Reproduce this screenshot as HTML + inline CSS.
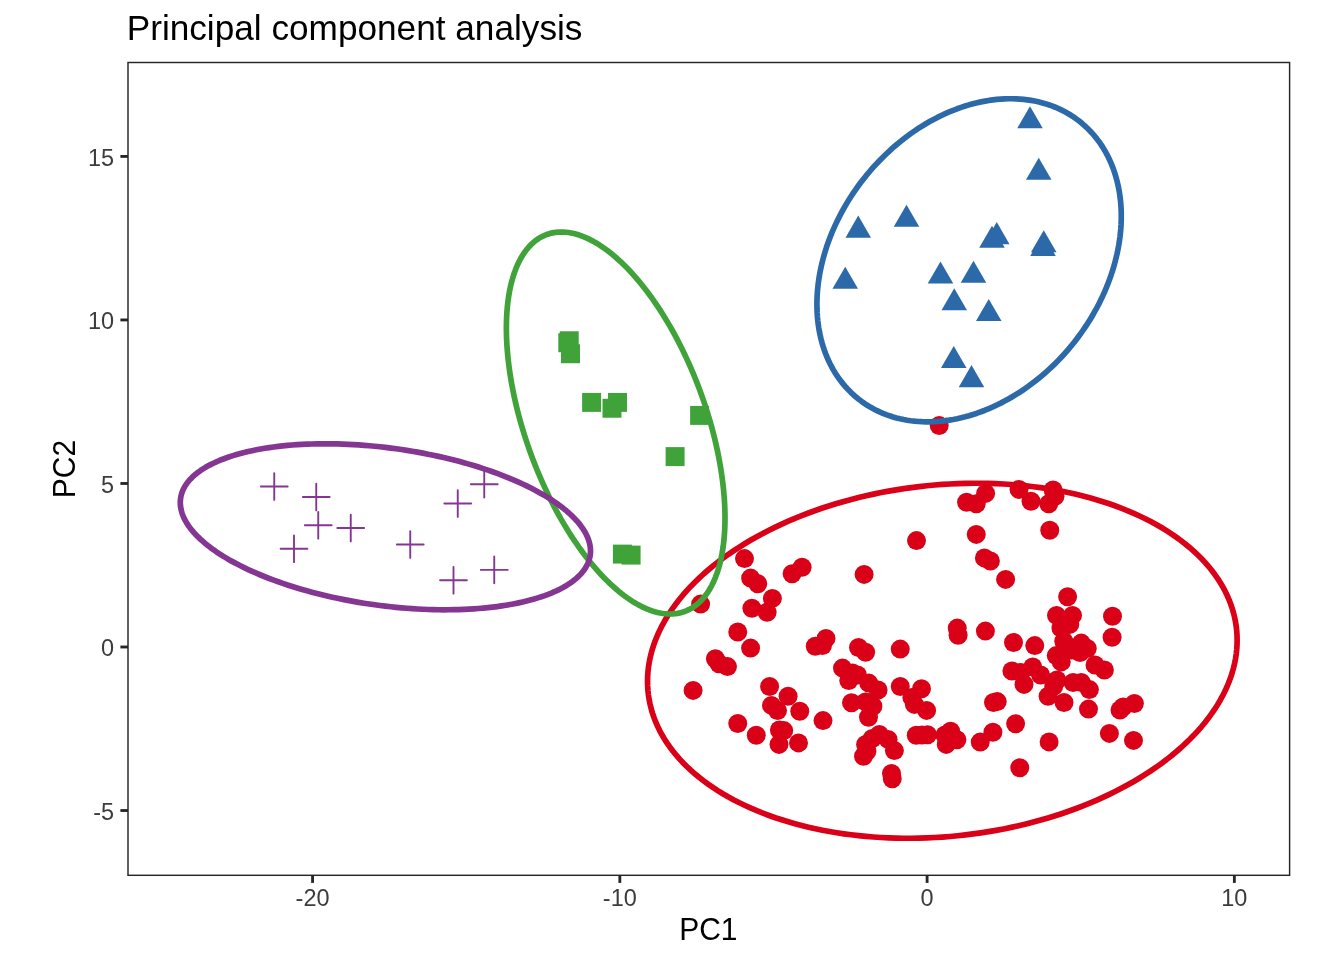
<!DOCTYPE html><html><head><meta charset="utf-8"><title>Principal component analysis</title>
<style>html,body{margin:0;padding:0;background:#fff}svg{display:block}text{font-family:"Liberation Sans",Arial,Helvetica,sans-serif}</style></head><body>
<svg width="1344" height="960" viewBox="0 0 1344 960">
<rect width="1344" height="960" fill="#fff"/>
<g fill="#DA0017">
<circle cx="744.5" cy="558.6" r="9.48"/>
<circle cx="750.6" cy="578.1" r="9.48"/>
<circle cx="757.75" cy="583.75" r="9.48"/>
<circle cx="792.1" cy="573.75" r="9.48"/>
<circle cx="802.1" cy="567.25" r="9.48"/>
<circle cx="772.4" cy="598.4" r="9.48"/>
<circle cx="700.6" cy="604.1" r="9.48"/>
<circle cx="751.9" cy="608.25" r="9.48"/>
<circle cx="767.1" cy="612.25" r="9.48"/>
<circle cx="737.75" cy="632" r="9.48"/>
<circle cx="750.6" cy="648.1" r="9.48"/>
<circle cx="715.4" cy="658.75" r="9.48"/>
<circle cx="719" cy="663.75" r="9.48"/>
<circle cx="727.5" cy="666.6" r="9.48"/>
<circle cx="826" cy="638.4" r="9.48"/>
<circle cx="815.25" cy="646.25" r="9.48"/>
<circle cx="822.5" cy="645.6" r="9.48"/>
<circle cx="693.1" cy="690.4" r="9.48"/>
<circle cx="769.6" cy="686.5" r="9.48"/>
<circle cx="788.1" cy="696.25" r="9.48"/>
<circle cx="771.5" cy="705.4" r="9.48"/>
<circle cx="777.5" cy="710.6" r="9.48"/>
<circle cx="799.75" cy="711.25" r="9.48"/>
<circle cx="823" cy="720.6" r="9.48"/>
<circle cx="737.75" cy="723.5" r="9.48"/>
<circle cx="756.25" cy="735.25" r="9.48"/>
<circle cx="779.4" cy="730" r="9.48"/>
<circle cx="783.75" cy="730.6" r="9.48"/>
<circle cx="779" cy="744.4" r="9.48"/>
<circle cx="798.5" cy="742.9" r="9.48"/>
<circle cx="864.1" cy="574.4" r="9.48"/>
<circle cx="916.5" cy="540.6" r="9.48"/>
<circle cx="976.25" cy="534.4" r="9.48"/>
<circle cx="984.4" cy="557.9" r="9.48"/>
<circle cx="990.4" cy="561" r="9.48"/>
<circle cx="1005.6" cy="579.4" r="9.48"/>
<circle cx="966.6" cy="502.25" r="9.48"/>
<circle cx="976.25" cy="503.75" r="9.48"/>
<circle cx="985.6" cy="493.4" r="9.48"/>
<circle cx="939.2" cy="425.5" r="9.48"/>
<circle cx="1019" cy="489.4" r="9.48"/>
<circle cx="1031" cy="501.25" r="9.48"/>
<circle cx="1053.1" cy="490" r="9.48"/>
<circle cx="1055" cy="496.25" r="9.48"/>
<circle cx="1048.75" cy="503.75" r="9.48"/>
<circle cx="1049.75" cy="530.25" r="9.48"/>
<circle cx="858.5" cy="647.5" r="9.48"/>
<circle cx="865.6" cy="652.25" r="9.48"/>
<circle cx="900.25" cy="649.1" r="9.48"/>
<circle cx="957.25" cy="628.1" r="9.48"/>
<circle cx="958.1" cy="635.25" r="9.48"/>
<circle cx="985.4" cy="631.1" r="9.48"/>
<circle cx="842.5" cy="668.1" r="9.48"/>
<circle cx="852.5" cy="673.1" r="9.48"/>
<circle cx="857.5" cy="675" r="9.48"/>
<circle cx="848.75" cy="680.6" r="9.48"/>
<circle cx="868.75" cy="683.1" r="9.48"/>
<circle cx="878.1" cy="690" r="9.48"/>
<circle cx="900.25" cy="686.5" r="9.48"/>
<circle cx="921.5" cy="688.75" r="9.48"/>
<circle cx="911.9" cy="697.5" r="9.48"/>
<circle cx="851.5" cy="702.75" r="9.48"/>
<circle cx="865.6" cy="701.9" r="9.48"/>
<circle cx="872.9" cy="706.25" r="9.48"/>
<circle cx="914.4" cy="704.4" r="9.48"/>
<circle cx="926.6" cy="710.4" r="9.48"/>
<circle cx="868.5" cy="717.25" r="9.48"/>
<circle cx="997.25" cy="701.6" r="9.48"/>
<circle cx="993.5" cy="702.5" r="9.48"/>
<circle cx="879.4" cy="734.4" r="9.48"/>
<circle cx="872.25" cy="738.5" r="9.48"/>
<circle cx="865.6" cy="744.4" r="9.48"/>
<circle cx="863.5" cy="756.25" r="9.48"/>
<circle cx="866.9" cy="751.25" r="9.48"/>
<circle cx="888.1" cy="739.4" r="9.48"/>
<circle cx="894.4" cy="750.6" r="9.48"/>
<circle cx="891.5" cy="773.5" r="9.48"/>
<circle cx="892.25" cy="778.75" r="9.48"/>
<circle cx="916.25" cy="735.25" r="9.48"/>
<circle cx="921.9" cy="735" r="9.48"/>
<circle cx="927.5" cy="734.75" r="9.48"/>
<circle cx="950.6" cy="731.25" r="9.48"/>
<circle cx="956.9" cy="739.75" r="9.48"/>
<circle cx="946.25" cy="744.4" r="9.48"/>
<circle cx="945" cy="735" r="9.48"/>
<circle cx="980.25" cy="742.1" r="9.48"/>
<circle cx="992.9" cy="732.25" r="9.48"/>
<circle cx="1067.6" cy="596.75" r="9.48"/>
<circle cx="1056.5" cy="615.4" r="9.48"/>
<circle cx="1072.5" cy="615.4" r="9.48"/>
<circle cx="1112.5" cy="616.25" r="9.48"/>
<circle cx="1112.1" cy="637.25" r="9.48"/>
<circle cx="1060.9" cy="628.1" r="9.48"/>
<circle cx="1069.75" cy="624.4" r="9.48"/>
<circle cx="1071.25" cy="650" r="9.48"/>
<circle cx="1013.5" cy="642.5" r="9.48"/>
<circle cx="1034.75" cy="645.6" r="9.48"/>
<circle cx="1063.75" cy="641.25" r="9.48"/>
<circle cx="1081.25" cy="643.1" r="9.48"/>
<circle cx="1087.25" cy="648.5" r="9.48"/>
<circle cx="1080" cy="652.5" r="9.48"/>
<circle cx="1056.25" cy="655.6" r="9.48"/>
<circle cx="1061.25" cy="661.9" r="9.48"/>
<circle cx="1095" cy="665" r="9.48"/>
<circle cx="1104.4" cy="670" r="9.48"/>
<circle cx="1011.9" cy="671" r="9.48"/>
<circle cx="1021" cy="672.5" r="9.48"/>
<circle cx="1032.75" cy="666.9" r="9.48"/>
<circle cx="1040.6" cy="675" r="9.48"/>
<circle cx="1024" cy="684.4" r="9.48"/>
<circle cx="1056.9" cy="680" r="9.48"/>
<circle cx="1053.75" cy="686.25" r="9.48"/>
<circle cx="1073.1" cy="682.5" r="9.48"/>
<circle cx="1081.25" cy="682.5" r="9.48"/>
<circle cx="1089.4" cy="689.6" r="9.48"/>
<circle cx="1048.1" cy="696.25" r="9.48"/>
<circle cx="1064" cy="702.5" r="9.48"/>
<circle cx="1088.5" cy="709.1" r="9.48"/>
<circle cx="1134.4" cy="703.5" r="9.48"/>
<circle cx="1123.1" cy="706.9" r="9.48"/>
<circle cx="1120" cy="710" r="9.48"/>
<circle cx="1109.4" cy="733.4" r="9.48"/>
<circle cx="1133.5" cy="740.4" r="9.48"/>
<circle cx="1015.6" cy="723.75" r="9.48"/>
<circle cx="1049.1" cy="741.9" r="9.48"/>
<circle cx="1019.75" cy="767.75" r="9.48"/>
</g>
<g fill="#2C69A9">
<polygon points="1030.00,106.26 1042.77,128.37 1017.23,128.37"/>
<polygon points="1038.75,157.66 1051.52,179.77 1025.98,179.77"/>
<polygon points="906.50,204.66 919.27,226.77 893.73,226.77"/>
<polygon points="858.25,215.56 871.02,237.67 845.48,237.67"/>
<polygon points="845.25,266.66 858.02,288.77 832.48,288.77"/>
<polygon points="996.75,222.06 1009.52,244.17 983.98,244.17"/>
<polygon points="992.00,225.76 1004.77,247.87 979.23,247.87"/>
<polygon points="1043.75,230.16 1056.52,252.27 1030.98,252.27"/>
<polygon points="1043.00,233.86 1055.77,255.97 1030.23,255.97"/>
<polygon points="940.50,261.46 953.27,283.57 927.73,283.57"/>
<polygon points="973.50,260.76 986.27,282.87 960.73,282.87"/>
<polygon points="954.25,288.26 967.02,310.37 941.48,310.37"/>
<polygon points="988.75,298.96 1001.52,321.07 975.98,321.07"/>
<polygon points="953.75,345.96 966.52,368.07 940.98,368.07"/>
<polygon points="971.50,365.06 984.27,387.17 958.73,387.17"/>
</g>
<g fill="#40A33A">
<rect x="559.77" y="331.27" width="18.96" height="18.96"/>
<rect x="558.27" y="333.27" width="18.96" height="18.96"/>
<rect x="561.02" y="344.27" width="18.96" height="18.96"/>
<rect x="582.12" y="392.92" width="18.96" height="18.96"/>
<rect x="608.02" y="392.92" width="18.96" height="18.96"/>
<rect x="602.52" y="398.77" width="18.96" height="18.96"/>
<rect x="665.62" y="447.12" width="18.96" height="18.96"/>
<rect x="690.12" y="405.92" width="18.96" height="18.96"/>
<rect x="612.92" y="544.62" width="18.96" height="18.96"/>
<rect x="621.62" y="545.62" width="18.96" height="18.96"/>
</g>
<g stroke="#843692" stroke-width="1.89" stroke-linecap="round" fill="none">
<path d="M260.84 486.5H287.66M274.25 473.09V499.91"/>
<path d="M302.84 497H329.66M316.25 483.59V510.41"/>
<path d="M304.84 525.25H331.66M318.25 511.84V538.66"/>
<path d="M337.34 528H364.16M350.75 514.59V541.41"/>
<path d="M280.59 548.75H307.41M294 535.34V562.16"/>
<path d="M396.84 544.5H423.66M410.25 531.09V557.91"/>
<path d="M444.34 503.5H471.16M457.75 490.09V516.91"/>
<path d="M470.84 484.2H497.66M484.25 470.79V497.61"/>
<path d="M440.09 580.25H466.91M453.5 566.84V593.66"/>
<path d="M480.84 569.9H507.66M494.25 556.49V583.31"/>
</g>
<path d="M1237.13 640.18 L1237.03 644.80 L1236.73 649.44 L1236.22 654.08 L1235.52 658.72 L1234.61 663.37 L1233.50 668.01 L1232.19 672.65 L1230.69 677.29 L1228.98 681.91 L1227.08 686.51 L1224.99 691.10 L1222.70 695.67 L1220.22 700.21 L1217.55 704.73 L1214.69 709.21 L1211.64 713.67 L1208.41 718.08 L1205.00 722.46 L1201.41 726.80 L1197.63 731.09 L1193.69 735.33 L1189.57 739.52 L1185.28 743.66 L1180.83 747.74 L1176.21 751.76 L1171.43 755.72 L1166.50 759.61 L1161.41 763.43 L1156.17 767.19 L1150.79 770.87 L1145.26 774.48 L1139.59 778.01 L1133.79 781.45 L1127.85 784.82 L1121.79 788.10 L1115.61 791.29 L1109.31 794.40 L1102.89 797.41 L1096.36 800.33 L1089.73 803.15 L1083.00 805.87 L1076.17 808.50 L1069.24 811.02 L1062.24 813.45 L1055.15 815.76 L1047.98 817.97 L1040.74 820.08 L1033.43 822.07 L1026.06 823.95 L1018.63 825.72 L1011.15 827.38 L1003.62 828.92 L996.05 830.35 L988.45 831.67 L980.81 832.86 L973.14 833.94 L965.46 834.90 L957.76 835.74 L950.05 836.46 L942.33 837.05 L934.61 837.53 L926.90 837.89 L919.20 838.12 L911.52 838.24 L903.85 838.23 L896.21 838.10 L888.61 837.85 L881.04 837.48 L873.51 836.98 L866.03 836.37 L858.60 835.64 L851.23 834.78 L843.92 833.81 L836.68 832.72 L829.51 831.51 L822.42 830.18 L815.42 828.74 L808.49 827.18 L801.66 825.50 L794.93 823.72 L788.30 821.82 L781.77 819.81 L775.35 817.70 L769.05 815.47 L762.87 813.14 L756.81 810.71 L750.87 808.17 L745.07 805.53 L739.40 802.80 L733.87 799.96 L728.49 797.03 L723.25 794.01 L718.16 790.89 L713.23 787.69 L708.45 784.40 L703.83 781.02 L699.38 777.56 L695.09 774.02 L690.97 770.41 L687.03 766.72 L683.25 762.95 L679.66 759.12 L676.25 755.22 L673.02 751.25 L669.97 747.22 L667.11 743.14 L664.44 738.99 L661.96 734.79 L659.67 730.55 L657.58 726.25 L655.68 721.91 L653.97 717.53 L652.47 713.10 L651.16 708.65 L650.05 704.16 L649.14 699.64 L648.44 695.09 L647.93 690.52 L647.63 685.93 L647.53 681.32 L647.63 676.70 L647.93 672.06 L648.44 667.42 L649.14 662.78 L650.05 658.13 L651.16 653.49 L652.47 648.85 L653.97 644.21 L655.68 639.59 L657.58 634.99 L659.67 630.40 L661.96 625.83 L664.44 621.29 L667.11 616.77 L669.97 612.29 L673.02 607.83 L676.25 603.42 L679.66 599.04 L683.25 594.70 L687.03 590.41 L690.97 586.17 L695.09 581.98 L699.38 577.84 L703.83 573.76 L708.45 569.74 L713.23 565.78 L718.16 561.89 L723.25 558.07 L728.49 554.31 L733.87 550.63 L739.40 547.02 L745.07 543.49 L750.87 540.05 L756.81 536.68 L762.87 533.40 L769.05 530.21 L775.35 527.10 L781.77 524.09 L788.30 521.17 L794.93 518.35 L801.66 515.63 L808.49 513.00 L815.42 510.48 L822.42 508.05 L829.51 505.74 L836.68 503.53 L843.92 501.42 L851.23 499.43 L858.60 497.55 L866.03 495.78 L873.51 494.12 L881.04 492.58 L888.61 491.15 L896.21 489.83 L903.85 488.64 L911.52 487.56 L919.20 486.60 L926.90 485.76 L934.61 485.04 L942.33 484.45 L950.05 483.97 L957.76 483.61 L965.46 483.38 L973.14 483.26 L980.81 483.27 L988.45 483.40 L996.05 483.65 L1003.62 484.02 L1011.15 484.52 L1018.63 485.13 L1026.06 485.86 L1033.43 486.72 L1040.74 487.69 L1047.98 488.78 L1055.15 489.99 L1062.24 491.32 L1069.24 492.76 L1076.17 494.32 L1083.00 496.00 L1089.73 497.78 L1096.36 499.68 L1102.89 501.69 L1109.31 503.80 L1115.61 506.03 L1121.79 508.36 L1127.85 510.79 L1133.79 513.33 L1139.59 515.97 L1145.26 518.70 L1150.79 521.54 L1156.17 524.47 L1161.41 527.49 L1166.50 530.61 L1171.43 533.81 L1176.21 537.10 L1180.83 540.48 L1185.28 543.94 L1189.57 547.48 L1193.69 551.09 L1197.63 554.78 L1201.41 558.55 L1205.00 562.38 L1208.41 566.28 L1211.64 570.25 L1214.69 574.28 L1217.55 578.36 L1220.22 582.51 L1222.70 586.71 L1224.99 590.95 L1227.08 595.25 L1228.98 599.59 L1230.69 603.97 L1232.19 608.40 L1233.50 612.85 L1234.61 617.34 L1235.52 621.86 L1236.22 626.41 L1236.73 630.98 L1237.03 635.57Z" fill="none" stroke="#DA0017" stroke-width="5.69" stroke-linecap="round" stroke-linejoin="round"/>
<path d="M1121.28 216.19 L1121.23 220.28 L1121.07 224.39 L1120.81 228.52 L1120.45 232.68 L1119.98 236.86 L1119.41 241.05 L1118.73 245.25 L1117.95 249.47 L1117.08 253.69 L1116.09 257.92 L1115.01 262.15 L1113.83 266.38 L1112.55 270.60 L1111.17 274.82 L1109.70 279.03 L1108.12 283.22 L1106.46 287.40 L1104.69 291.56 L1102.84 295.70 L1100.89 299.81 L1098.85 303.90 L1096.73 307.95 L1094.52 311.98 L1092.22 315.97 L1089.83 319.92 L1087.37 323.83 L1084.82 327.69 L1082.19 331.51 L1079.49 335.28 L1076.71 339.00 L1073.85 342.67 L1070.93 346.28 L1067.93 349.83 L1064.87 353.32 L1061.74 356.74 L1058.55 360.10 L1055.30 363.39 L1051.98 366.61 L1048.61 369.76 L1045.19 372.83 L1041.71 375.83 L1038.19 378.74 L1034.62 381.58 L1031.00 384.33 L1027.34 387.00 L1023.64 389.58 L1019.90 392.07 L1016.13 394.47 L1012.32 396.78 L1008.49 398.99 L1004.63 401.11 L1000.74 403.14 L996.83 405.06 L992.91 406.89 L988.96 408.61 L985.01 410.24 L981.04 411.76 L977.06 413.18 L973.08 414.49 L969.10 415.70 L965.12 416.80 L961.14 417.79 L957.16 418.68 L953.19 419.46 L949.24 420.12 L945.29 420.68 L941.37 421.13 L937.46 421.47 L933.57 421.70 L929.71 421.81 L925.88 421.82 L922.07 421.71 L918.30 421.50 L914.56 421.17 L910.86 420.74 L907.20 420.19 L903.58 419.54 L900.01 418.77 L896.49 417.90 L893.01 416.92 L889.59 415.83 L886.22 414.64 L882.90 413.33 L879.65 411.93 L876.46 410.42 L873.33 408.81 L870.27 407.09 L867.27 405.28 L864.35 403.36 L861.49 401.35 L858.71 399.24 L856.01 397.04 L853.38 394.74 L850.83 392.35 L848.37 389.87 L845.98 387.30 L843.68 384.64 L841.47 381.90 L839.35 379.08 L837.31 376.17 L835.36 373.18 L833.51 370.12 L831.74 366.98 L830.08 363.77 L828.50 360.49 L827.03 357.13 L825.65 353.72 L824.37 350.24 L823.19 346.69 L822.11 343.09 L821.12 339.43 L820.25 335.72 L819.47 331.95 L818.79 328.14 L818.22 324.27 L817.75 320.37 L817.39 316.42 L817.13 312.44 L816.97 308.42 L816.92 304.37 L816.97 300.28 L817.13 296.17 L817.39 292.04 L817.75 287.88 L818.22 283.70 L818.79 279.51 L819.47 275.31 L820.25 271.09 L821.12 266.87 L822.11 262.64 L823.19 258.41 L824.37 254.18 L825.65 249.96 L827.03 245.74 L828.50 241.53 L830.08 237.34 L831.74 233.16 L833.51 229.00 L835.36 224.86 L837.31 220.75 L839.35 216.66 L841.47 212.61 L843.68 208.58 L845.98 204.59 L848.37 200.64 L850.83 196.73 L853.38 192.87 L856.01 189.05 L858.71 185.28 L861.49 181.56 L864.35 177.89 L867.27 174.28 L870.27 170.73 L873.33 167.24 L876.46 163.82 L879.65 160.46 L882.90 157.17 L886.22 153.95 L889.59 150.80 L893.01 147.73 L896.49 144.73 L900.01 141.82 L903.58 138.98 L907.20 136.23 L910.86 133.56 L914.56 130.98 L918.30 128.49 L922.07 126.09 L925.88 123.78 L929.71 121.57 L933.57 119.45 L937.46 117.42 L941.37 115.50 L945.29 113.67 L949.24 111.95 L953.19 110.32 L957.16 108.80 L961.14 107.38 L965.12 106.07 L969.10 104.86 L973.08 103.76 L977.06 102.77 L981.04 101.88 L985.01 101.10 L988.96 100.44 L992.91 99.88 L996.83 99.43 L1000.74 99.09 L1004.63 98.86 L1008.49 98.75 L1012.32 98.74 L1016.13 98.85 L1019.90 99.06 L1023.64 99.39 L1027.34 99.82 L1031.00 100.37 L1034.62 101.02 L1038.19 101.79 L1041.71 102.66 L1045.19 103.64 L1048.61 104.73 L1051.98 105.92 L1055.30 107.23 L1058.55 108.63 L1061.74 110.14 L1064.87 111.75 L1067.93 113.47 L1070.93 115.28 L1073.85 117.20 L1076.71 119.21 L1079.49 121.32 L1082.19 123.52 L1084.82 125.82 L1087.37 128.21 L1089.83 130.69 L1092.22 133.26 L1094.52 135.92 L1096.73 138.66 L1098.85 141.48 L1100.89 144.39 L1102.84 147.38 L1104.69 150.44 L1106.46 153.58 L1108.12 156.79 L1109.70 160.07 L1111.17 163.43 L1112.55 166.84 L1113.83 170.32 L1115.01 173.87 L1116.09 177.47 L1117.08 181.13 L1117.95 184.84 L1118.73 188.61 L1119.41 192.42 L1119.98 196.29 L1120.45 200.19 L1120.81 204.14 L1121.07 208.12 L1121.23 212.14Z" fill="none" stroke="#2C69A9" stroke-width="5.69" stroke-linecap="round" stroke-linejoin="round"/>
<path d="M724.99 517.90 L724.95 522.21 L724.84 526.45 L724.65 530.62 L724.39 534.71 L724.05 538.73 L723.64 542.67 L723.16 546.52 L722.60 550.29 L721.97 553.98 L721.27 557.57 L720.49 561.07 L719.64 564.48 L718.72 567.79 L717.73 571.00 L716.67 574.11 L715.54 577.12 L714.34 580.02 L713.08 582.81 L711.74 585.49 L710.35 588.07 L708.88 590.53 L707.36 592.87 L705.77 595.10 L704.11 597.21 L702.40 599.20 L700.63 601.07 L698.80 602.81 L696.91 604.44 L694.97 605.94 L692.97 607.31 L690.92 608.56 L688.82 609.68 L686.67 610.68 L684.47 611.54 L682.22 612.28 L679.93 612.88 L677.59 613.36 L675.21 613.70 L672.79 613.92 L670.33 614.00 L667.84 613.95 L665.31 613.77 L662.74 613.46 L660.14 613.02 L657.51 612.45 L654.85 611.75 L652.17 610.93 L649.46 609.97 L646.73 608.88 L643.97 607.67 L641.20 606.33 L638.41 604.86 L635.60 603.27 L632.78 601.56 L629.95 599.72 L627.11 597.77 L624.26 595.69 L621.40 593.49 L618.54 591.18 L615.68 588.75 L612.82 586.21 L609.96 583.56 L607.10 580.80 L604.25 577.93 L601.41 574.95 L598.58 571.87 L595.76 568.68 L592.95 565.40 L590.16 562.02 L587.39 558.54 L584.63 554.97 L581.90 551.31 L579.19 547.57 L576.51 543.73 L573.85 539.82 L571.22 535.82 L568.62 531.75 L566.05 527.60 L563.52 523.38 L561.02 519.09 L558.57 514.74 L556.15 510.32 L553.77 505.85 L551.43 501.31 L549.14 496.73 L546.89 492.09 L544.69 487.40 L542.54 482.68 L540.44 477.91 L538.39 473.10 L536.39 468.26 L534.45 463.38 L532.56 458.48 L530.73 453.56 L528.96 448.61 L527.25 443.65 L525.59 438.67 L524.00 433.68 L522.48 428.69 L521.01 423.69 L519.62 418.69 L518.28 413.69 L517.02 408.70 L515.82 403.72 L514.69 398.75 L513.63 393.80 L512.64 388.87 L511.72 383.96 L510.87 379.08 L510.09 374.23 L509.39 369.41 L508.76 364.63 L508.20 359.89 L507.72 355.19 L507.31 350.54 L506.97 345.94 L506.71 341.39 L506.52 336.90 L506.41 332.47 L506.37 328.10 L506.41 323.79 L506.52 319.55 L506.71 315.38 L506.97 311.29 L507.31 307.27 L507.72 303.33 L508.20 299.48 L508.76 295.71 L509.39 292.02 L510.09 288.43 L510.87 284.93 L511.72 281.52 L512.64 278.21 L513.63 275.00 L514.69 271.89 L515.82 268.88 L517.02 265.98 L518.28 263.19 L519.62 260.51 L521.01 257.93 L522.48 255.47 L524.00 253.13 L525.59 250.90 L527.25 248.79 L528.96 246.80 L530.73 244.93 L532.56 243.19 L534.45 241.56 L536.39 240.06 L538.39 238.69 L540.44 237.44 L542.54 236.32 L544.69 235.32 L546.89 234.46 L549.14 233.72 L551.43 233.12 L553.77 232.64 L556.15 232.30 L558.57 232.08 L561.02 232.00 L563.52 232.05 L566.05 232.23 L568.62 232.54 L571.22 232.98 L573.85 233.55 L576.51 234.25 L579.19 235.07 L581.90 236.03 L584.63 237.12 L587.39 238.33 L590.16 239.67 L592.95 241.14 L595.76 242.73 L598.58 244.44 L601.41 246.28 L604.25 248.23 L607.10 250.31 L609.96 252.51 L612.82 254.82 L615.68 257.25 L618.54 259.79 L621.40 262.44 L624.26 265.20 L627.11 268.07 L629.95 271.05 L632.78 274.13 L635.60 277.32 L638.41 280.60 L641.20 283.98 L643.97 287.46 L646.73 291.03 L649.46 294.69 L652.17 298.43 L654.85 302.27 L657.51 306.18 L660.14 310.18 L662.74 314.25 L665.31 318.40 L667.84 322.62 L670.33 326.91 L672.79 331.26 L675.21 335.68 L677.59 340.15 L679.93 344.69 L682.22 349.27 L684.47 353.91 L686.67 358.60 L688.82 363.32 L690.92 368.09 L692.97 372.90 L694.97 377.74 L696.91 382.62 L698.80 387.52 L700.63 392.44 L702.40 397.39 L704.11 402.35 L705.77 407.33 L707.36 412.32 L708.88 417.31 L710.35 422.31 L711.74 427.31 L713.08 432.31 L714.34 437.30 L715.54 442.28 L716.67 447.25 L717.73 452.20 L718.72 457.13 L719.64 462.04 L720.49 466.92 L721.27 471.77 L721.97 476.59 L722.60 481.37 L723.16 486.11 L723.64 490.81 L724.05 495.46 L724.39 500.06 L724.65 504.61 L724.84 509.10 L724.95 513.53Z" fill="none" stroke="#40A33A" stroke-width="5.69" stroke-linecap="round" stroke-linejoin="round"/>
<path d="M590.50 551.03 L590.43 553.10 L590.22 555.15 L589.87 557.18 L589.38 559.19 L588.75 561.18 L587.97 563.15 L587.07 565.09 L586.02 567.00 L584.83 568.89 L583.51 570.75 L582.05 572.57 L580.46 574.37 L578.74 576.13 L576.88 577.86 L574.89 579.56 L572.77 581.22 L570.52 582.84 L568.15 584.42 L565.65 585.97 L563.02 587.47 L560.28 588.93 L557.41 590.35 L554.43 591.72 L551.33 593.05 L548.12 594.34 L544.79 595.58 L541.36 596.77 L537.82 597.91 L534.17 599.01 L530.43 600.05 L526.58 601.05 L522.64 601.99 L518.60 602.89 L514.47 603.73 L510.26 604.52 L505.95 605.25 L501.57 605.93 L497.11 606.56 L492.56 607.13 L487.95 607.65 L483.27 608.11 L478.51 608.52 L473.70 608.87 L468.82 609.16 L463.89 609.40 L458.90 609.58 L453.86 609.70 L448.78 609.77 L443.65 609.78 L438.48 609.73 L433.28 609.63 L428.04 609.47 L422.78 609.25 L417.48 608.98 L412.17 608.65 L406.84 608.26 L401.49 607.82 L396.13 607.32 L390.77 606.77 L385.40 606.16 L380.03 605.50 L374.67 604.78 L369.31 604.01 L363.96 603.19 L358.63 602.32 L353.32 601.39 L348.02 600.41 L342.76 599.38 L337.52 598.31 L332.32 597.18 L327.15 596.00 L322.02 594.78 L316.94 593.51 L311.90 592.20 L306.91 590.84 L301.98 589.43 L297.10 587.99 L292.29 586.50 L287.53 584.97 L282.85 583.40 L278.24 581.79 L273.69 580.15 L269.23 578.47 L264.85 576.75 L260.54 575.00 L256.33 573.21 L252.20 571.39 L248.16 569.55 L244.22 567.67 L240.37 565.76 L236.63 563.83 L232.98 561.88 L229.44 559.90 L226.01 557.89 L222.68 555.87 L219.47 553.82 L216.37 551.76 L213.39 549.68 L210.52 547.58 L207.78 545.47 L205.15 543.35 L202.65 541.21 L200.28 539.07 L198.03 536.92 L195.91 534.76 L193.92 532.59 L192.06 530.42 L190.34 528.25 L188.75 526.08 L187.29 523.90 L185.97 521.73 L184.78 519.57 L183.73 517.41 L182.83 515.25 L182.05 513.10 L181.42 510.96 L180.93 508.84 L180.58 506.72 L180.37 504.62 L180.30 502.53 L180.37 500.46 L180.58 498.41 L180.93 496.38 L181.42 494.37 L182.05 492.38 L182.83 490.41 L183.73 488.47 L184.78 486.56 L185.97 484.67 L187.29 482.81 L188.75 480.99 L190.34 479.19 L192.06 477.43 L193.92 475.70 L195.91 474.00 L198.03 472.34 L200.28 470.72 L202.65 469.14 L205.15 467.59 L207.78 466.09 L210.52 464.63 L213.39 463.21 L216.37 461.84 L219.47 460.51 L222.68 459.22 L226.01 457.98 L229.44 456.79 L232.98 455.65 L236.63 454.55 L240.37 453.51 L244.22 452.51 L248.16 451.57 L252.20 450.67 L256.33 449.83 L260.54 449.04 L264.85 448.31 L269.23 447.63 L273.69 447.00 L278.24 446.43 L282.85 445.91 L287.53 445.45 L292.29 445.04 L297.10 444.69 L301.98 444.40 L306.91 444.16 L311.90 443.98 L316.94 443.86 L322.02 443.79 L327.15 443.78 L332.32 443.83 L337.52 443.93 L342.76 444.09 L348.02 444.31 L353.32 444.58 L358.63 444.91 L363.96 445.30 L369.31 445.74 L374.67 446.24 L380.03 446.79 L385.40 447.40 L390.77 448.06 L396.13 448.78 L401.49 449.55 L406.84 450.37 L412.17 451.24 L417.48 452.17 L422.78 453.15 L428.04 454.18 L433.28 455.25 L438.48 456.38 L443.65 457.56 L448.78 458.78 L453.86 460.05 L458.90 461.36 L463.89 462.72 L468.82 464.13 L473.70 465.57 L478.51 467.06 L483.27 468.59 L487.95 470.16 L492.56 471.77 L497.11 473.41 L501.57 475.09 L505.95 476.81 L510.26 478.56 L514.47 480.35 L518.60 482.17 L522.64 484.01 L526.58 485.89 L530.43 487.80 L534.17 489.73 L537.82 491.68 L541.36 493.66 L544.79 495.67 L548.12 497.69 L551.33 499.74 L554.43 501.80 L557.41 503.88 L560.28 505.98 L563.02 508.09 L565.65 510.21 L568.15 512.35 L570.52 514.49 L572.77 516.64 L574.89 518.80 L576.88 520.97 L578.74 523.14 L580.46 525.31 L582.05 527.48 L583.51 529.66 L584.83 531.83 L586.02 533.99 L587.07 536.15 L587.97 538.31 L588.75 540.46 L589.38 542.60 L589.87 544.72 L590.22 546.84 L590.43 548.94Z" fill="none" stroke="#843692" stroke-width="5.69" stroke-linecap="round" stroke-linejoin="round"/>
<rect x="128.0" y="62.5" width="1161.6" height="812.8" fill="none" stroke="#262626" stroke-width="1.45"/>
<g stroke="#262626" stroke-width="2.85">
<line x1="312.56" x2="312.56" y1="875.3" y2="882.90"/>
<line x1="619.83" x2="619.83" y1="875.3" y2="882.90"/>
<line x1="927.10" x2="927.10" y1="875.3" y2="882.90"/>
<line x1="1234.37" x2="1234.37" y1="875.3" y2="882.90"/>
<line x1="120.40" x2="128.0" y1="810.52" y2="810.52"/>
<line x1="120.40" x2="128.0" y1="647.00" y2="647.00"/>
<line x1="120.40" x2="128.0" y1="483.48" y2="483.48"/>
<line x1="120.40" x2="128.0" y1="319.95" y2="319.95"/>
<line x1="120.40" x2="128.0" y1="156.43" y2="156.43"/>
</g>
<g fill="#3C3C3C" font-size="23.47">
<text x="312.56" y="906.2" text-anchor="middle">-20</text>
<text x="619.83" y="906.2" text-anchor="middle">-10</text>
<text x="927.10" y="906.2" text-anchor="middle">0</text>
<text x="1234.37" y="906.2" text-anchor="middle">10</text>
<text x="114" y="819.92" text-anchor="end">-5</text>
<text x="114" y="656.40" text-anchor="end">0</text>
<text x="114" y="492.88" text-anchor="end">5</text>
<text x="114" y="329.35" text-anchor="end">10</text>
<text x="114" y="165.83" text-anchor="end">15</text>
</g>
<text transform="translate(708.3,939.8) scale(1,1.035)" font-size="30" text-anchor="middle" fill="#000">PC1</text>
<text transform="translate(75,469) rotate(-90) scale(1,1.035)" font-size="30" text-anchor="middle" fill="#000">PC2</text>
<text x="126.7" y="40" font-size="35.2" fill="#000">Principal component analysis</text>
</svg></body></html>
